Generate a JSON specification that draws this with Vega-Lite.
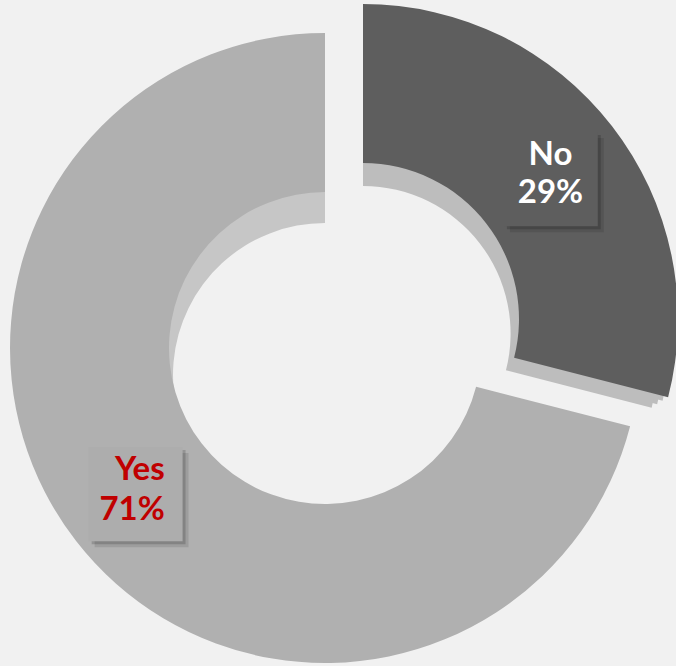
{
  "$schema": "https://vega.github.io/schema/vega-lite/v6.json",
  "width": 650,
  "height": 636,
  "autosize": "none",
  "padding": {"left": 0, "top": 30, "right": 26, "bottom": 0},
  "background": "#f1f1f1",
  "view": {"stroke": null},
  "data": {"values": [
    {"category": "No", "value": 29, "pct": "29%", "box": "■"},
    {"category": "Yes", "value": 71, "pct": "71%", "box": "■"}
  ]},
  "encoding": {
    "theta": {"field": "value", "type": "quantitative", "stack": true},
    "order": {"field": "category", "sort": "ascending"}
  },
  "layer": [
    {"mark": {"type": "arc", "fill": "#c6c6c6", "outerRadius": 240, "innerRadius": 154.6, "yOffset": 9},
     "encoding": {"opacity": {"condition": {"test": "datum.category === 'Yes'", "value": 1}, "value": 0}}},
    {"mark": {"type": "arc", "fill": "#c6c6c6", "outerRadius": 240, "innerRadius": 153.3, "yOffset": 18},
     "encoding": {"opacity": {"condition": {"test": "datum.category === 'Yes'", "value": 1}, "value": 0}}},
    {"mark": {"type": "arc", "fill": "#c6c6c6", "outerRadius": 240, "innerRadius": 152, "yOffset": 27},
     "encoding": {"opacity": {"condition": {"test": "datum.category === 'Yes'", "value": 1}, "value": 0}}},
    {"mark": {"type": "arc", "fill": "#b0b0b0", "outerRadius": 315, "innerRadius": 156},
     "encoding": {"opacity": {"condition": {"test": "datum.category === 'Yes'", "value": 1}, "value": 0}}},
    {"mark": {"type": "arc", "fill": "#bdbdbd", "outerRadius": 309.3, "innerRadius": 153.2, "xOffset": 38, "yOffset": -24.1},
     "encoding": {"opacity": {"condition": {"test": "datum.category === 'No'", "value": 1}, "value": 0}}},
    {"mark": {"type": "arc", "fill": "#bdbdbd", "outerRadius": 303.7, "innerRadius": 150.4, "xOffset": 38, "yOffset": -19.3},
     "encoding": {"opacity": {"condition": {"test": "datum.category === 'No'", "value": 1}, "value": 0}}},
    {"mark": {"type": "arc", "fill": "#bdbdbd", "outerRadius": 298, "innerRadius": 147.6, "xOffset": 38, "yOffset": -14.4},
     "encoding": {"opacity": {"condition": {"test": "datum.category === 'No'", "value": 1}, "value": 0}}},
    {"mark": {"type": "arc", "fill": "#5e5e5e", "outerRadius": 315, "innerRadius": 156, "xOffset": 38, "yOffset": -29},
     "encoding": {"opacity": {"condition": {"test": "datum.category === 'No'", "value": 1}, "value": 0}}},

    {"mark": {"type": "text", "font": "DejaVu Sans", "fontSize": 123, "align": "center", "baseline": "middle", "fill": "#000000", "opacity": 0.1, "radius": 236, "xOffset": 45.5, "yOffset": -23},
     "encoding": {"text": {"condition": {"test": "datum.category === 'No'", "field": "box"}, "value": ""}}},
    {"mark": {"type": "text", "font": "DejaVu Sans", "fontSize": 123, "align": "center", "baseline": "middle", "fill": "#000000", "opacity": 0.16, "radius": 236, "xOffset": 42.5, "yOffset": -26},
     "encoding": {"text": {"condition": {"test": "datum.category === 'No'", "field": "box"}, "value": ""}}},
    {"mark": {"type": "text", "font": "DejaVu Sans", "fontSize": 123, "align": "center", "baseline": "middle", "fill": "#5e5e5e", "radius": 236, "xOffset": 39.5, "yOffset": -29},
     "encoding": {"text": {"condition": {"test": "datum.category === 'No'", "field": "box"}, "value": ""}}},
    {"mark": {"type": "text", "font": "Lato", "fontWeight": "bold", "fontSize": 33, "align": "center", "baseline": "alphabetic", "fill": "#ffffff", "radius": 236, "xOffset": 39, "yOffset": -24, "dy": -14},
     "encoding": {"text": {"condition": {"test": "datum.category === 'No'", "field": "category"}, "value": ""}}},
    {"mark": {"type": "text", "font": "Lato", "fontWeight": "bold", "fontSize": 33, "align": "center", "baseline": "alphabetic", "fill": "#ffffff", "radius": 236, "xOffset": 39, "yOffset": -24, "dy": 24},
     "encoding": {"text": {"condition": {"test": "datum.category === 'No'", "field": "pct"}, "value": ""}}},

    {"mark": {"type": "text", "font": "DejaVu Sans", "fontSize": 123, "align": "center", "baseline": "middle", "fill": "#000000", "opacity": 0.1, "radius": 237, "xOffset": 4, "yOffset": 1.5},
     "encoding": {"text": {"condition": {"test": "datum.category === 'Yes'", "field": "box"}, "value": ""}}},
    {"mark": {"type": "text", "font": "DejaVu Sans", "fontSize": 123, "align": "center", "baseline": "middle", "fill": "#000000", "opacity": 0.16, "radius": 237, "xOffset": 1, "yOffset": -1.5},
     "encoding": {"text": {"condition": {"test": "datum.category === 'Yes'", "field": "box"}, "value": ""}}},
    {"mark": {"type": "text", "font": "DejaVu Sans", "fontSize": 123, "align": "center", "baseline": "middle", "fill": "#adadad", "radius": 237, "xOffset": -2, "yOffset": -4.5},
     "encoding": {"text": {"condition": {"test": "datum.category === 'Yes'", "field": "box"}, "value": ""}}},
    {"mark": {"type": "text", "font": "Lato", "fontWeight": "bold", "fontSize": 33, "align": "right", "baseline": "alphabetic", "fill": "#c00000", "radius": 237, "dx": 27, "dy": -13},
     "encoding": {"text": {"condition": {"test": "datum.category === 'Yes'", "field": "category"}, "value": ""}}},
    {"mark": {"type": "text", "font": "Lato", "fontWeight": "bold", "fontSize": 33, "align": "right", "baseline": "alphabetic", "fill": "#c00000", "radius": 237, "dx": 27, "dy": 27},
     "encoding": {"text": {"condition": {"test": "datum.category === 'Yes'", "field": "pct"}, "value": ""}}}
  ]
}
